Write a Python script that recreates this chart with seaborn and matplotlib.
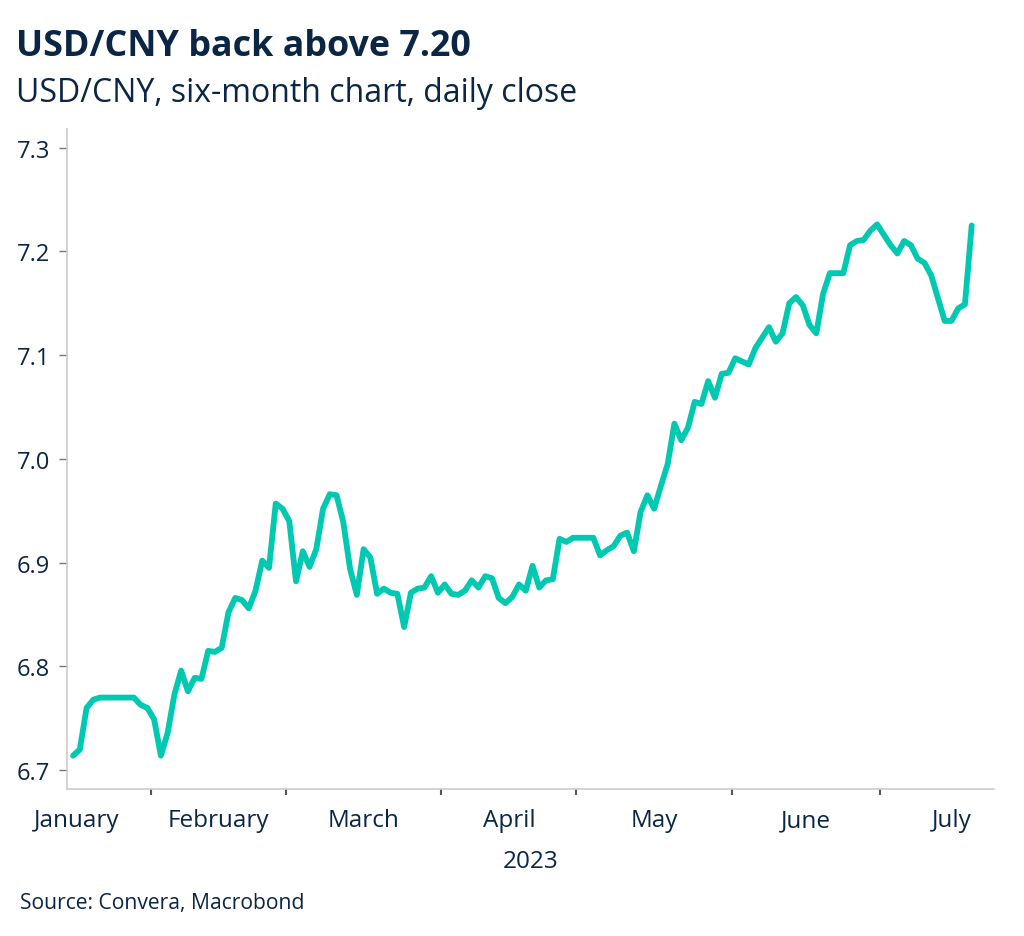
import pandas as pd
import matplotlib.pyplot as plt
import seaborn as sns

# USD/CNY daily close, business days 16 Jan - 20 Jul 2023
jan = [6.714, 6.720, 6.760, 6.768, 6.770, 6.770, 6.770, 6.770, 6.770, 6.770, 6.763, 6.760]
feb = [6.749, 6.714, 6.736, 6.773, 6.796, 6.776, 6.789, 6.788, 6.815, 6.814,
       6.818, 6.852, 6.866, 6.864, 6.856, 6.873, 6.902, 6.895, 6.957, 6.952]
mar = [6.940, 6.882, 6.911, 6.896, 6.913, 6.952, 6.966, 6.965, 6.939, 6.894, 6.869, 6.913,
       6.905, 6.870, 6.875, 6.871, 6.870, 6.838, 6.871, 6.875, 6.876, 6.887, 6.871]
apr = [6.879, 6.870, 6.869, 6.873, 6.883, 6.876, 6.887, 6.885, 6.866, 6.861,
       6.867, 6.879, 6.873, 6.897, 6.876, 6.883, 6.884, 6.923, 6.920, 6.924]
may = [6.924, 6.924, 6.924, 6.907, 6.912, 6.916, 6.926, 6.929, 6.911, 6.949, 6.965, 6.952,
       6.974, 6.995, 7.034, 7.018, 7.030, 7.055, 7.053, 7.075, 7.059, 7.082, 7.083]
jun = [7.097, 7.094, 7.091, 7.107, 7.117, 7.127, 7.113, 7.121, 7.150, 7.156, 7.148,
       7.129, 7.121, 7.159, 7.179, 7.179, 7.179, 7.206, 7.210, 7.211, 7.220, 7.226]
jul = [7.216, 7.206, 7.198, 7.210, 7.206, 7.193, 7.189, 7.177, 7.155, 7.133, 7.133, 7.145, 7.149, 7.225]

month_names = ["January", "February", "March", "April", "May", "June", "July"]
y_ticks = [6.7, 6.8, 6.9, 7.0, 7.1, 7.2, 7.3]

navy = "#0b2545"
teal = "#00c9b2"

# business-day axis (chart skips weekends)
full_days = pd.bdate_range("2023-01-02", "2023-07-31")
data_days = pd.bdate_range("2023-01-16", "2023-07-20")
df = pd.DataFrame({"date": data_days, "close": jan + feb + mar + apr + may + jun + jul})
df["x"] = full_days.get_indexer(df["date"])

# month boundaries and mid points in business-day units
months = full_days.month
starts = [list(months).index(m) - 0.5 for m in range(1, 8)] + [len(full_days) - 0.5]
bounds = starts[1:-1]
mids = [(starts[i] + starts[i + 1]) / 2 for i in range(7)]

sns.set_style("white")
plt.rcParams["font.family"] = ["Open Sans", "DejaVu Sans"]

fig = plt.figure(figsize=(10.24, 9.37), dpi=100)
ax = fig.add_axes([0.0654, 0.157, 0.9053, 0.7043])

sns.lineplot(data=df, x="x", y="close", ax=ax, color=teal, linewidth=4.2)

ax.set_xlim(df["x"].iloc[0] - 0.9, df["x"].iloc[0] + 136.3)
ax.set_ylim(6.682, 7.318)
ax.set_yticks(y_ticks)
ax.set_yticklabels([f"{v:.1f}" for v in y_ticks])

ax.set_xticks(bounds)
ax.set_xticklabels([])
ax.set_xticks(mids, minor=True)
ax.set_xticklabels(month_names, minor=True)
ax.tick_params(axis="x", which="major", bottom=True, length=4, width=1.5, color="#555555", direction="out")
ax.tick_params(axis="x", which="minor", bottom=True, length=0, pad=14, labelsize=17.5, labelcolor=navy)
ax.tick_params(axis="y", left=True, length=6, width=1, color="#777777", labelsize=17, labelcolor=navy, pad=6)

for s in ["top", "right"]:
    ax.spines[s].set_visible(False)
for s in ["left", "bottom"]:
    ax.spines[s].set_color("#cccccc")
    ax.spines[s].set_linewidth(1.2)

ax.set_xlabel("2023", fontsize=17.5, color=navy, labelpad=12)
ax.set_ylabel("")

fig.text(0.016, 0.950, "USD/CNY back above 7.20", fontsize=25.8, fontweight="bold", color=navy, va="center")
fig.text(0.016, 0.900, "USD/CNY, six-month chart, daily close", fontsize=23, color=navy, va="center")
fig.text(0.02, 0.036, "Source: Convera, Macrobond", fontsize=15.2, color=navy, va="center")

plt.savefig("out.png", dpi=100)
